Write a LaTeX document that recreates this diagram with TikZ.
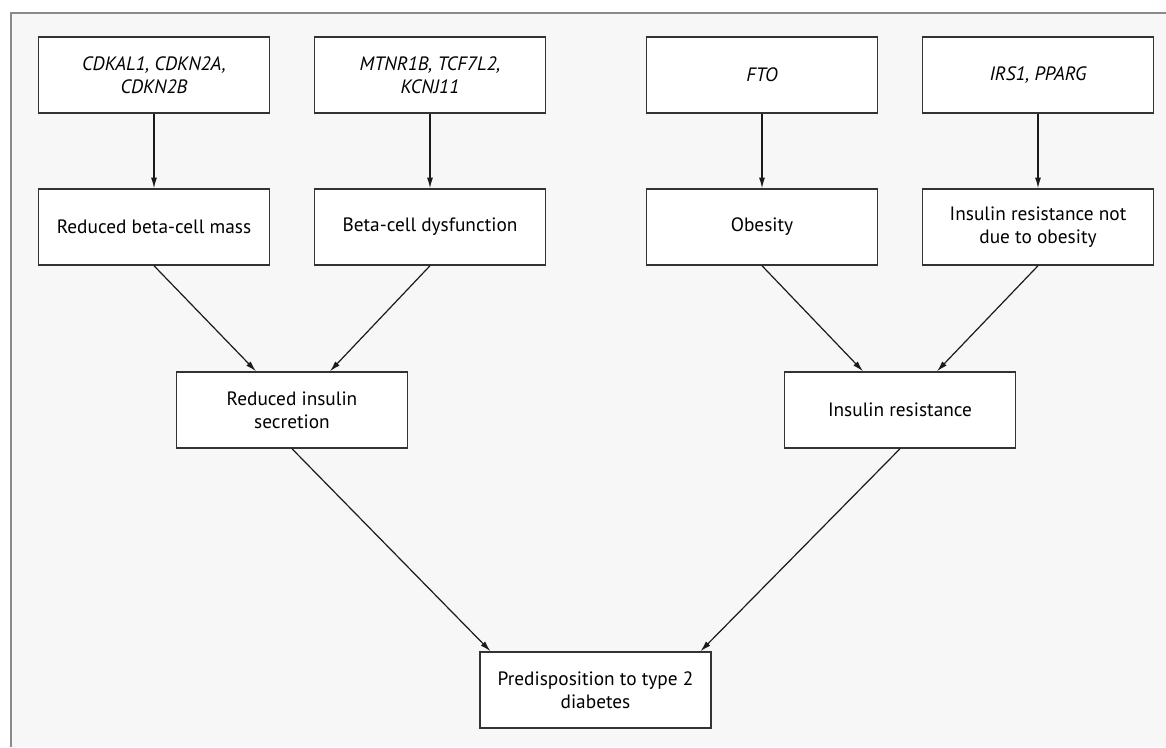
\documentclass[tikz,border=0pt]{standalone}
\usepackage{fontspec}
\setmainfont{PT Sans}
\usetikzlibrary{arrows.meta,calc}
\definecolor{panelbg}{HTML}{F7F7F7}
\definecolor{bordercol}{HTML}{8A8A8A}
\definecolor{boxline}{HTML}{333333}
\definecolor{arrowcol}{HTML}{1A1A1A}
\begin{document}
\begin{tikzpicture}[x=0.75pt,y=-0.75pt,
  box/.style={draw=boxline, fill=white, line width=1.1pt, minimum width=173.25pt, minimum height=57pt, align=center, font=\fontsize{14.5}{17.5}\selectfont, inner sep=0pt},
  arr/.style={-{Latex[length=8pt,width=4.5pt]}, line width=0.9pt, draw=arrowcol}]
\useasboundingbox (0,0) rectangle (1166,747);
\fill[white] (0,0) rectangle (1166,747);
\fill[panelbg] (11,13) rectangle (1166,747);
\draw[bordercol, line width=1.5pt] (11,747) -- (11,13) -- (1166,13);

\node[box] (g1) at (154,75) {\itshape CDKAL1, CDKN2A,\\\itshape CDKN2B};
\node[box] (g2) at (430,75) {\itshape MTNR1B, TCF7L2,\\\itshape KCNJ11};
\node[box] (g3) at (762,75) {\itshape FTO};
\node[box] (g4) at (1038,75) {\itshape IRS1, PPARG};

\node[box] (m1) at (154,227) {Reduced beta-cell mass};
\node[box] (m2) at (430,227) {Beta-cell dysfunction};
\node[box] (m3) at (762,227) {Obesity};
\node[box] (m4) at (1038,227) {Insulin resistance not\\due to obesity};

\node[box] (ris) at (292,410) {Reduced insulin\\secretion};
\node[box] (ir) at (900,410) {Insulin resistance};

\node[box] (pd) at (595.5,690) {Predisposition to type 2\\diabetes};

\coordinate (ris-a) at ($(ris.north)+(-36,0)$);
\coordinate (ris-b) at ($(ris.north)+(38,0)$);
\coordinate (ir-a) at ($(ir.north)+(-37,0)$);
\coordinate (ir-b) at ($(ir.north)+(37,0)$);
\coordinate (pd-a) at ($(pd.north)+(-105,0)$);
\coordinate (pd-b) at ($(pd.north)+(105,0)$);

\draw[arr] (g1.south) -- (m1.north);
\draw[arr] (g2.south) -- (m2.north);
\draw[arr] (g3.south) -- (m3.north);
\draw[arr] (g4.south) -- (m4.north);

\draw[arr] (m1.south) -- (ris-a);
\draw[arr] (m2.south) -- (ris-b);
\draw[arr] (m3.south) -- (ir-a);
\draw[arr] (m4.south) -- (ir-b);

\draw[arr] (ris.south) -- (pd-a);
\draw[arr] (ir.south) -- (pd-b);
\end{tikzpicture}
\end{document}
